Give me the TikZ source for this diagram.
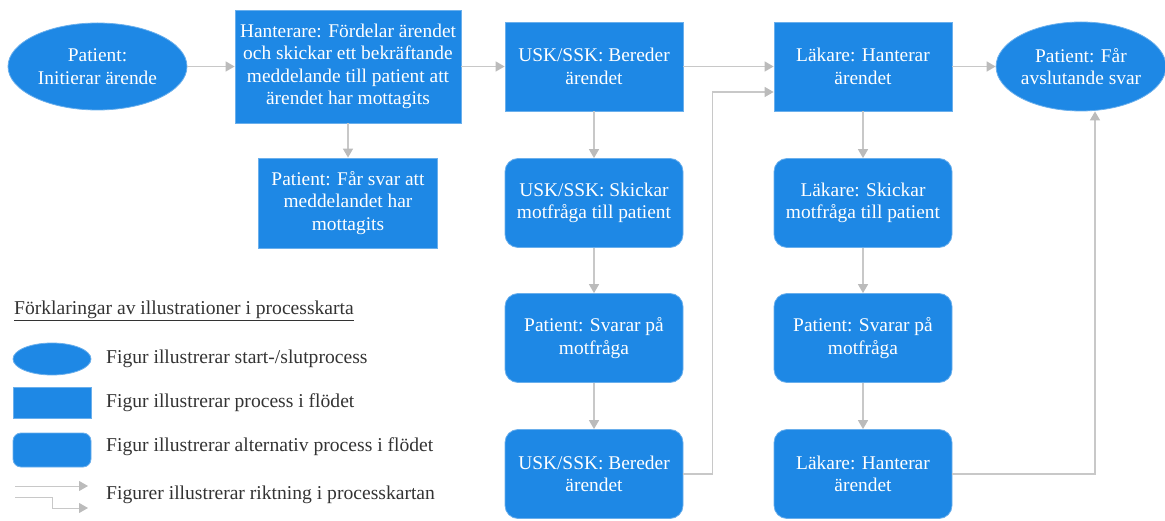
\documentclass[tikz,border=0pt]{standalone}
\usepackage{fontspec}
\setmainfont{Liberation Serif}
\usetikzlibrary{shapes.geometric,arrows.meta}
\definecolor{boxblue}{HTML}{1E88E5}
\definecolor{boxedge}{HTML}{6AAFEC}
\definecolor{flowgray}{HTML}{C8C8C8}
\definecolor{tipgray}{HTML}{BBBBBB}
\definecolor{legendtext}{HTML}{333333}

\begin{document}
\begin{tikzpicture}[x=1pt,y=-1pt,
  base/.style={fill=boxblue,draw=boxedge,line width=0.8pt,text=white,align=center,
    inner sep=0pt,font=\fontsize{19.4}{22.5}\selectfont},
  startend/.style={base,ellipse},
  proc/.style={base,rectangle,minimum width=178pt,minimum height=89pt},
  altproc/.style={proc,rounded corners=13pt},
  flow/.style={draw=flowgray,line width=1.5pt,
    -{Triangle[length=9pt,width=10pt,color=tipgray]}},
  legendflow/.style={flow,line width=1pt},
  legendlabel/.style={anchor=west,text=legendtext,inner sep=0pt,
    font=\fontsize{19.6}{22}\selectfont},
]
\useasboundingbox (0,0) rectangle (1165,521);

% main process row
\node[startend,minimum width=179pt,minimum height=87pt] (start) at (97.5,66.5)
  {Patient:\\Initierar ärende};
\node[proc,minimum width=226pt,minimum height=113pt] (dist) at (348,66.5)
  {Hanterare: Fördelar ärendet\\och skickar ett bekräftande\\meddelande till patient att\\ärendet har mottagits};
\node[proc,minimum width=179pt,minimum height=90pt] (ack) at (348,203)
  {Patient: Får svar att\\meddelandet har\\mottagits};

% nurse column
\node[proc] (nurseA) at (594,66.5) {USK/SSK: Bereder\\ärendet};
\node[altproc] (nurseQ) at (594,203) {USK/SSK: Skickar\\motfråga till patient};
\node[altproc] (patA) at (594,338) {Patient: Svarar på\\motfråga};
\node[altproc] (nurseB) at (594,474) {USK/SSK: Bereder\\ärendet};

% physician column
\node[proc] (docA) at (863,66.5) {Läkare: Hanterar\\ärendet};
\node[altproc] (docQ) at (863,203) {Läkare: Skickar\\motfråga till patient};
\node[altproc] (patB) at (863,338) {Patient: Svarar på\\motfråga};
\node[altproc] (docB) at (863,474) {Läkare: Hanterar\\ärendet};

\node[startend,minimum width=168pt,minimum height=89pt] (finish) at (1081,66.5)
  {Patient: Får\\avslutande svar};

% flow connectors
\draw[flow] (start) -- (dist);
\draw[flow] (dist.south) -- (ack.north);
\draw[flow] (dist) -- (nurseA);
\draw[flow] (nurseA) -- (docA);
\draw[flow] (docA) -- (finish);
\draw[flow] (nurseA) -- (nurseQ);
\draw[flow] (nurseQ) -- (patA);
\draw[flow] (patA) -- (nurseB);
\draw[flow] (docA) -- (docQ);
\draw[flow] (docQ) -- (patB);
\draw[flow] (patB) -- (docB);
\draw[flow] (nurseB.east) -- ++(29,0) |- ([yshift=-25.5pt]docA.west);
\draw[flow] (docB.east) -| ([xshift=14pt]finish.south);

% legend
\node[legendlabel] (lgTitle) at (14,311)
  {\underline{Förklaringar av illustrationer i processkarta}};
\node[startend,minimum width=78pt,minimum height=32pt] (lgEll) at (52,359) {};
\node[proc,minimum width=78pt,minimum height=31pt] (lgRect) at (52,402.5) {};
\node[altproc,rounded corners=8pt,minimum width=78pt,minimum height=34pt] (lgRound) at (52,450) {};
\coordinate (lgA1s) at (15,486);
\coordinate (lgA1e) at (88,486);
\coordinate (lgA2s) at (15,497);
\coordinate (lgA2e) at (88,508);
\draw[legendflow] (lgA1s) -- (lgA1e);
\draw[legendflow] (lgA2s) -- ++(37,0) |- (lgA2e);

\node[legendlabel] (lgT1) at (106,359) {Figur illustrerar start-/slutprocess};
\node[legendlabel] (lgT2) at (106,403) {Figur illustrerar process i flödet};
\node[legendlabel] (lgT3) at (106,447) {Figur illustrerar alternativ process i flödet};
\node[legendlabel] (lgT4) at (106,495) {Figurer illustrerar riktning i processkartan};
\end{tikzpicture}
\end{document}
